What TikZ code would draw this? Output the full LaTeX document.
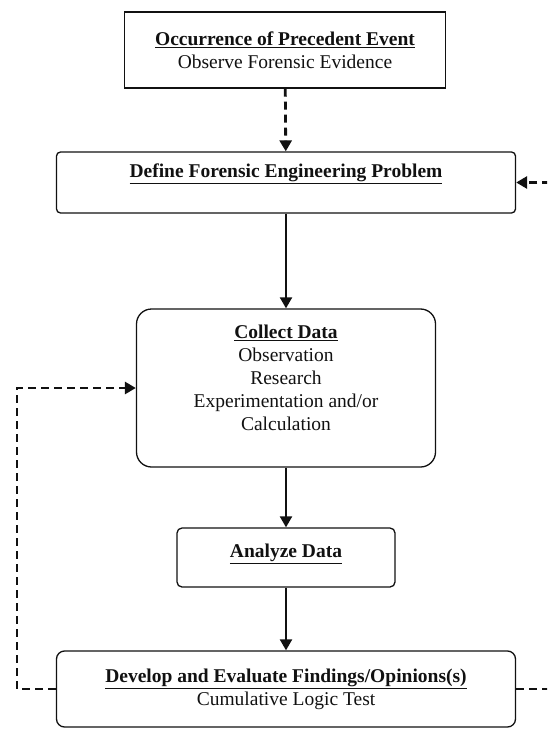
\documentclass[tikz,border=0pt]{standalone}
\usepackage{fontspec}
\setmainfont{Liberation Serif}
\usetikzlibrary{arrows.meta,positioning}
\definecolor{FlowInk}{HTML}{111111}

\begin{document}
\begin{tikzpicture}[
  x=1pt,
  y=-1pt,
  every node/.style={font=\fontsize{19.5}{23}\selectfont, align=center, text=FlowInk},
  box/.style={draw=FlowInk, line width=1.3pt, inner sep=0pt},
  flow/.style={draw=FlowInk, line width=2.2pt, -{Triangle[length=11pt,width=12pt]}},
  loop/.style={flow, line width=2.8pt, dash pattern=on 8pt off 5pt}
]
\useasboundingbox (0,0) rectangle (547,730);
\clip (0,0) rectangle (547,730);

\node[box, minimum width=321pt, minimum height=76pt] (event) at (285,50)
  {\underline{\textbf{Occurrence of Precedent Event}}\\Observe Forensic Evidence};
\node[box, rounded corners=4pt, minimum width=459pt, minimum height=61pt, text depth=24pt] (define) at (286,182.5)
  {\underline{\textbf{Define Forensic Engineering Problem}}};
\node[box, rounded corners=15pt, minimum width=299pt, minimum height=158pt, text depth=20pt] (collect) at (286,388)
  {\underline{\textbf{Collect Data}}\\Observation\\Research\\Experimentation and/or\\Calculation};
\node[box, rounded corners=5pt, minimum width=218pt, minimum height=59pt, text depth=14pt] (analyze) at (286,557.5)
  {\underline{\textbf{Analyze Data}}};
\node[box, rounded corners=8pt, minimum width=459pt, minimum height=76pt] (develop) at (286,689)
  {\underline{\textbf{Develop and Evaluate Findings/Opinions(s)}}\\Cumulative Logic Test};

\coordinate (loopL) at (17,0);
\coordinate (loopR) at (553,0);

\draw[loop] (event) -- (define);
\draw[flow] (define) -- (collect);
\draw[flow] (collect) -- (analyze);
\draw[flow] (analyze) -- (develop);
\draw[loop] (develop.west) -| (loopL |- collect.west) -- (collect.west);
\draw[loop] (develop.east) -| (loopR |- define.east) -- (define.east);
\end{tikzpicture}
\end{document}
